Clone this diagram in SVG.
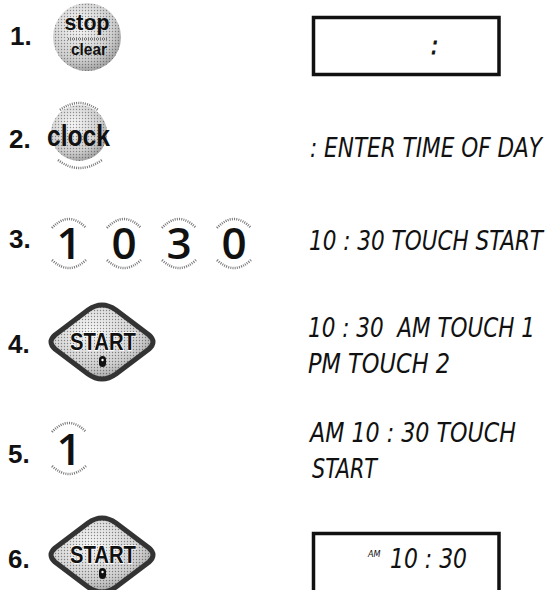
<svg xmlns="http://www.w3.org/2000/svg" width="559" height="590" viewBox="0 0 559 590">
<style>
.num{font-family:"Liberation Sans",Arial,sans-serif;font-weight:bold;font-size:26px;fill:#111}
.key{font-family:"Open Sans","Liberation Sans",sans-serif;font-weight:600;font-size:44px;fill:#111;text-anchor:middle}
.btn{font-family:"Liberation Sans",Arial,sans-serif;font-weight:bold;fill:#111;text-anchor:middle}
.lcd{font-family:"DejaVu Sans Condensed","DejaVu Sans",sans-serif;font-style:italic;font-size:22px;fill:#111;white-space:pre}
.arc{fill:none;stroke:#777;stroke-width:2.5;stroke-dasharray:1 1.2}
.box{fill:none;stroke:#111;stroke-width:3.5}
.dia{fill:url(#sph);stroke:#333;stroke-width:5}
.diadots{fill:url(#dots);opacity:0.55}
</style>
<defs>
<radialGradient id="sph" cx="0.4" cy="0.35" r="0.7">
<stop offset="0" stop-color="#f6f6f6"/>
<stop offset="0.7" stop-color="#cfcfcf"/>
<stop offset="1" stop-color="#9c9c9c"/>
</radialGradient>
<pattern id="dots" width="3" height="3" patternUnits="userSpaceOnUse">
<circle cx="1.5" cy="1.5" r="0.7" fill="#333"/>
</pattern>
</defs>
<rect width="559" height="590" fill="#fff"/>

<g id="step1">
<text class="num" x="10" y="45">1.</text>
<g id="stop-clear-button">
<circle cx="87" cy="37" r="34" fill="url(#sph)"/>
<circle cx="87" cy="37" r="34" fill="url(#dots)" opacity="0.5"/>
<text class="btn" x="87" y="30" font-size="22" textLength="45" lengthAdjust="spacingAndGlyphs">stop</text>
<line x1="68" y1="39" x2="108" y2="39" stroke="#555" stroke-width="1.5" stroke-dasharray="1 1"/>
<text class="btn" x="89" y="55" font-size="17" textLength="36" lengthAdjust="spacingAndGlyphs">clear</text>
</g>
</g>
<g id="display1">
<rect class="box" x="313.5" y="17.5" width="185.5" height="57"/>
<text class="lcd" x="431" y="54" style="font-size:24px" stroke="#111" stroke-width="0.8">:</text>
</g>

<g id="step2">
<text class="num" x="9" y="148">2.</text>
<g id="clock-button">
<circle cx="79" cy="133" r="28" fill="url(#sph)"/>
<circle cx="79" cy="133" r="28" fill="url(#dots)" opacity="0.5"/>
<path class="arc" d="M60,110 Q79,96 98,110" stroke="#aaa"/>
<path class="arc" d="M58,160 Q79,176 102,160" stroke="#aaa"/>
<text class="btn" x="78.5" y="146" font-size="30" textLength="63" lengthAdjust="spacingAndGlyphs">clock</text>
</g>
</g>
<g id="msg2"><text class="lcd" transform="translate(310,157) scale(1,1.2)" x="0" y="0" textLength="232" lengthAdjust="spacingAndGlyphs">: ENTER TIME OF DAY</text></g>

<g id="step3">
<text class="num" x="9" y="248">3.</text>
<g id="key-1a"><path class="arc" d="M52,228 Q69,210 86,228"/><text class="key" x="69" y="259">1</text><path class="arc" d="M52,260 Q69,276 86,260"/></g>
<g id="key-0a"><path class="arc" d="M107,228 Q124,210 141,228"/><text class="key" x="124" y="259">0</text><path class="arc" d="M107,260 Q124,276 141,260"/></g>
<g id="key-3"><path class="arc" d="M162,228 Q179,210 196,228"/><text class="key" x="179" y="259">3</text><path class="arc" d="M162,260 Q179,276 196,260"/></g>
<g id="key-0b"><path class="arc" d="M217,228 Q234,210 251,228"/><text class="key" x="234" y="259">0</text><path class="arc" d="M217,260 Q234,276 251,260"/></g>
</g>
<g id="msg3"><text class="lcd" transform="translate(309,250) scale(1,1.2)" x="0" y="0" textLength="234" lengthAdjust="spacingAndGlyphs">10 : 30 TOUCH START</text></g>

<g id="step4">
<text class="num" x="8" y="353">4.</text>
<g id="start-button-1">
<path class="dia" d="M55,335 L88,310 Q102,300 116,310 L149,335 Q157,342 149,349 L116,374 Q102,384 88,374 L55,349 Q47,342 55,335 Z"/>
<path class="diadots" d="M55,335 L88,310 Q102,300 116,310 L149,335 Q157,342 149,349 L116,374 Q102,384 88,374 L55,349 Q47,342 55,335 Z"/>
<text class="btn" x="103" y="350" font-size="24" textLength="66" lengthAdjust="spacingAndGlyphs" stroke="#fff" stroke-width="1.5" paint-order="stroke">START</text>
<rect x="99" y="356" width="7" height="11" rx="3.5" fill="#111"/>
<circle cx="102.5" cy="360" r="1.2" fill="#fff"/>
</g>
</g>
<g id="msg4">
<text class="lcd" transform="translate(308,337) scale(1,1.2)" x="0" y="0" textLength="227" lengthAdjust="spacingAndGlyphs">10 : 30  AM TOUCH 1</text>
<text class="lcd" transform="translate(308,373) scale(1,1.2)" x="0" y="0" textLength="142" lengthAdjust="spacingAndGlyphs">PM TOUCH 2</text>
</g>

<g id="step5">
<text class="num" x="8" y="463">5.</text>
<g id="key-1b"><path class="arc" d="M52,432 Q69,414 86,432"/><text class="key" x="69" y="465">1</text><path class="arc" d="M52,466 Q69,482 86,466"/></g>
</g>
<g id="msg5">
<text class="lcd" transform="translate(310,442) scale(1,1.2)" x="0" y="0" textLength="206" lengthAdjust="spacingAndGlyphs">AM 10 : 30 TOUCH</text>
<text class="lcd" transform="translate(312,478) scale(1,1.2)" x="0" y="0" textLength="65" lengthAdjust="spacingAndGlyphs">START</text>
</g>

<g id="step6">
<text class="num" x="8" y="568">6.</text>
<g id="start-button-2">
<path class="dia" d="M55,548 L88,523 Q102,513 116,523 L149,548 Q157,555 149,562 L116,587 Q102,597 88,587 L55,562 Q47,555 55,548 Z"/>
<path class="diadots" d="M55,548 L88,523 Q102,513 116,523 L149,548 Q157,555 149,562 L116,587 Q102,597 88,587 L55,562 Q47,555 55,548 Z"/>
<text class="btn" x="103" y="563" font-size="24" textLength="66" lengthAdjust="spacingAndGlyphs" stroke="#fff" stroke-width="1.5" paint-order="stroke">START</text>
<rect x="99" y="568" width="7" height="11" rx="3.5" fill="#111"/>
<circle cx="102.5" cy="572" r="1.2" fill="#fff"/>
</g>
</g>
<g id="display2">
<rect class="box" x="313.5" y="533.5" width="185.5" height="70"/>
<text class="lcd" x="368" y="557" style="font-size:9px">AM</text>
<text class="lcd" transform="translate(390,568) scale(1,1.2)" x="0" y="0" textLength="77" lengthAdjust="spacingAndGlyphs">10 : 30</text>
</g>
</svg>
